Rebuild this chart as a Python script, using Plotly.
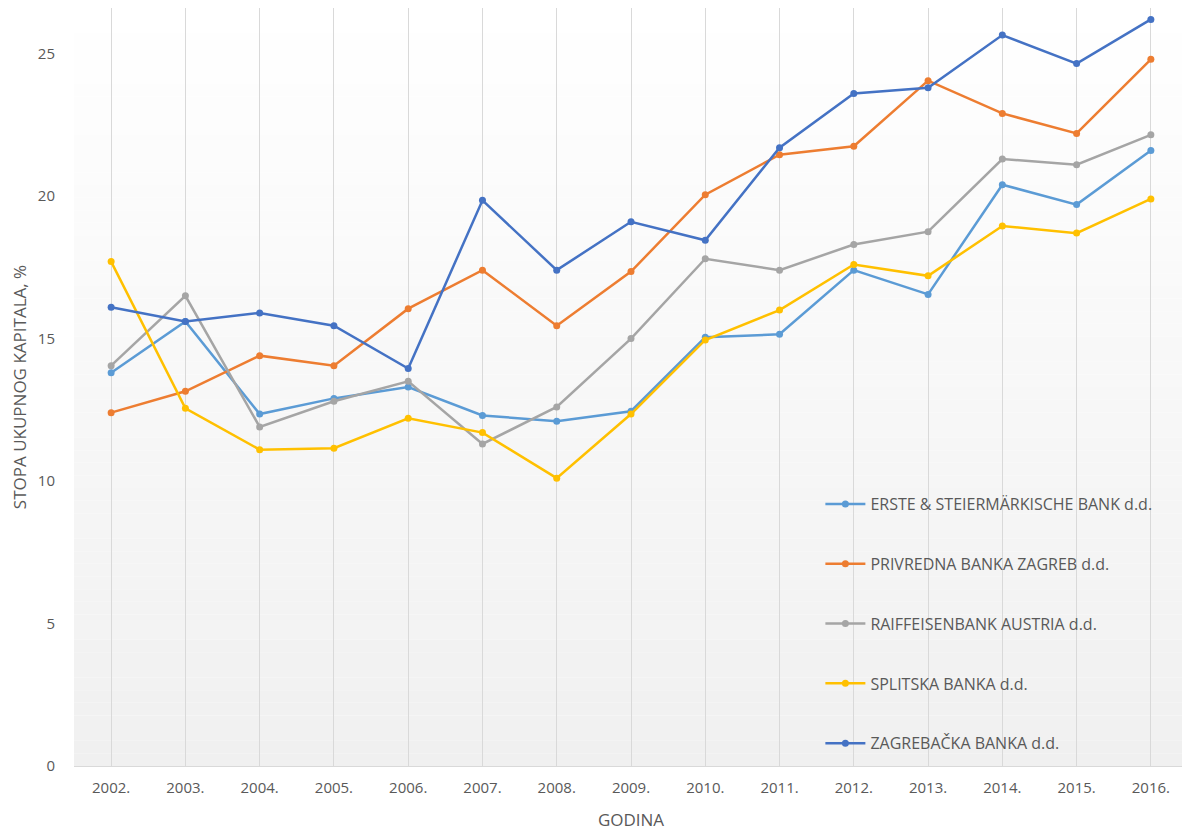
import plotly.graph_objects as go

years = ["2002.", "2003.", "2004.", "2005.", "2006.", "2007.", "2008.", "2009.",
         "2010.", "2011.", "2012.", "2013.", "2014.", "2015.", "2016."]

erste = [13.8, 15.6, 12.35, 12.9, 13.3, 12.3, 12.1, 12.45, 15.05, 15.15, 17.4, 16.55, 20.4, 19.7, 21.6]
pbz = [12.4, 13.15, 14.4, 14.05, 16.05, 17.4, 15.45, 17.35, 20.05, 21.45, 21.75, 24.05, 22.9, 22.2, 24.8]
rba = [14.05, 16.5, 11.9, 12.8, 13.5, 11.3, 12.6, 15.0, 17.8, 17.4, 18.3, 18.75, 21.3, 21.1, 22.15]
splitska = [17.7, 12.55, 11.1, 11.15, 12.2, 11.7, 10.1, 12.35, 14.95, 16.0, 17.6, 17.2, 18.95, 18.7, 19.9]
zaba = [16.1, 15.6, 15.9, 15.45, 13.95, 19.85, 17.4, 19.1, 18.45, 21.7, 23.6, 23.8, 25.65, 24.65, 26.2]

series = [
    ("ERSTE & STEIERMÄRKISCHE BANK d.d.", erste, "#5B9BD5"),
    ("PRIVREDNA BANKA ZAGREB d.d.", pbz, "#ED7D31"),
    ("RAIFFEISENBANK AUSTRIA d.d.", rba, "#A5A5A5"),
    ("SPLITSKA BANKA d.d.", splitska, "#FFC000"),
    ("ZAGREBAČKA BANKA d.d.", zaba, "#4472C4"),
]

FONT = "Open Sans, Noto Sans, sans-serif"

fig = go.Figure()
for i, (name, vals, col) in enumerate(series):
    fig.add_trace(go.Scatter(
        x=years, y=vals, name=name, mode="lines+markers",
        line=dict(color=col, width=2.5),
        marker=dict(color=col, size=7),
        legendgroup="g%d" % i,
    ))

# vertical gradient background of the plot area (white top -> light grey bottom)
n = 60
shapes = []
for k in range(n):
    t = k / (n - 1)
    v = int(round(255 - t * (255 - 240)))
    shapes.append(dict(
        type="rect", xref="paper", yref="paper",
        x0=0, x1=1, y0=1 - (k + 1) / n, y1=1 - k / n,
        fillcolor="rgb(%d,%d,%d)" % (v, v, v), line=dict(width=0), layer="below",
    ))

fig.update_layout(
    width=1190, height=831, autosize=False,
    margin=dict(l=66, r=10, t=0, b=73, autoexpand=False),
    paper_bgcolor="white", plot_bgcolor="rgba(0,0,0,0)",
    shapes=shapes,
    font=dict(family=FONT, color="#595959", size=15),
    showlegend=True,
    legend=dict(
        x=0.670, y=0.368, xanchor="left", yanchor="top",
        bgcolor="rgba(0,0,0,0)", font=dict(size=16, color="#595959"),
        tracegroupgap=36, itemwidth=40,
    ),
    xaxis=dict(
        type="category", range=[-0.5, 14.5], automargin=False,
        showgrid=True, gridcolor="#D9D9D9", gridwidth=1,
        showline=True, linecolor="#D9D9D9", linewidth=1,
        ticks="outside", ticklen=8, tickcolor="rgba(0,0,0,0)",
        tickfont=dict(size=15, color="#595959"),
        title=dict(text="GODINA", font=dict(size=17, color="#595959"), standoff=18),
        zeroline=False,
    ),
    yaxis=dict(
        range=[0, 26.6], tickvals=[0, 5, 10, 15, 20, 25], automargin=False,
        showgrid=False, zeroline=False, showline=False,
        ticks="outside", ticklen=15, tickcolor="rgba(0,0,0,0)",
        tickfont=dict(size=15, color="#595959"),
        title=dict(text="STOPA UKUPNOG KAPITALA, %", font=dict(size=17, color="#595959"), standoff=8),
    ),
)

fig.write_html("out.html")
